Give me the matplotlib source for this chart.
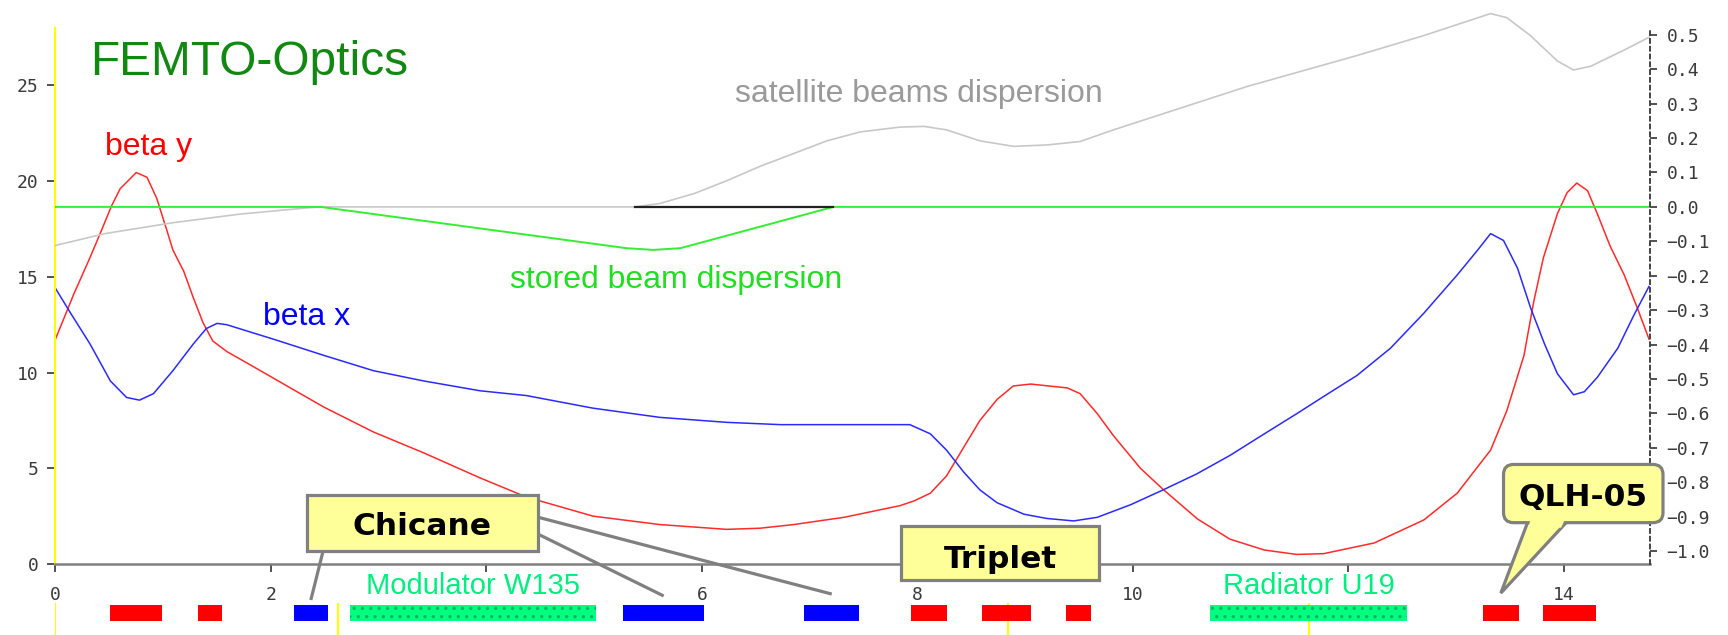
import numpy as np
import matplotlib.pyplot as plt
from matplotlib.patches import Rectangle, FancyBboxPatch, Polygon
from matplotlib.ticker import FuncFormatter

plt.rcParams['font.family'] = ['DejaVu Sans Mono']
plt.rcParams['hatch.linewidth'] = 1.2

# beta functions (left axis)
s_by = [0, 0.17, 0.32, 0.41, 0.52, 0.6, 0.75, 0.85, 0.94, 1.03, 1.09, 1.19, 1.28, 1.37,
        1.46, 1.59, 1.84, 2.18, 2.49, 2.95, 3.42, 3.94, 4.37, 4.99, 5.61, 6.23, 6.54, 6.85,
        7.32, 7.84, 7.97, 8.12, 8.27, 8.43, 8.58, 8.74, 8.89, 9.05, 9.39, 9.51, 9.67, 9.82,
        10.07, 10.28, 10.6, 10.9, 11.22, 11.52, 11.77, 12.24, 12.7, 13.01, 13.32, 13.47,
        13.63, 13.72, 13.81, 13.94, 14.03, 14.12, 14.22, 14.31, 14.43, 14.56, 14.68, 14.79]
beta_y = [11.75, 14.1, 16.0, 17.2, 18.7, 19.6, 20.45, 20.2, 19.1, 17.5, 16.4, 15.3, 13.9, 12.6,
          11.65, 11.1, 10.3, 9.2, 8.2, 6.9, 5.8, 4.5, 3.5, 2.5, 2.06, 1.81, 1.87, 2.06,
          2.44, 3.05, 3.3, 3.7, 4.6, 6.1, 7.5, 8.6, 9.3, 9.4, 9.2, 8.9, 7.85, 6.7,
          5.0, 3.9, 2.35, 1.3, 0.73, 0.5, 0.54, 1.1, 2.3, 3.7, 5.95, 8.0,
          10.9, 13.7, 16.0, 18.3, 19.4, 19.9, 19.5, 18.3, 16.6, 15.1, 13.4, 11.75]

s_bx = [0, 0.13, 0.32, 0.51, 0.66, 0.78, 0.91, 1.09, 1.28, 1.40, 1.50, 1.59, 2.02, 2.49,
        2.95, 3.42, 3.94, 4.37, 4.99, 5.61, 6.23, 6.73, 7.93, 8.12, 8.27, 8.43, 8.58, 8.74,
        8.99, 9.2, 9.45, 9.67, 9.98, 10.28, 10.59, 10.9, 11.22, 11.52, 11.77, 12.08, 12.39,
        12.7, 13.01, 13.2, 13.32, 13.44, 13.57, 13.69, 13.82, 13.94, 14.09, 14.19, 14.31,
        14.5, 14.65, 14.79]
beta_x = [14.4, 13.2, 11.5, 9.56, 8.7, 8.56, 8.9, 10.1, 11.5, 12.3, 12.57, 12.5, 11.75, 10.9,
          10.1, 9.56, 9.05, 8.8, 8.14, 7.66, 7.4, 7.28, 7.28, 6.8, 5.95, 4.8, 3.87, 3.2,
          2.6, 2.38, 2.25, 2.44, 3.1, 3.87, 4.7, 5.67, 6.8, 7.85, 8.75, 9.85, 11.27,
          13.1, 15.1, 16.4, 17.26, 16.9, 15.45, 13.4, 11.5, 9.94, 8.84, 9.0, 9.75,
          11.27, 13.0, 14.5]

# dispersion (right axis)
s_sat = [0, 0.47, 1.09, 1.71, 2.33, 2.46, 5.38, 5.61, 5.93, 6.23, 6.54, 6.85, 7.16, 7.47,
         7.84, 8.06, 8.27, 8.58, 8.89, 9.2, 9.51, 9.82, 10.44, 11.06, 11.74, 12.08, 12.7,
         13.32, 13.47, 13.69, 13.94, 14.09, 14.25, 14.56, 14.79]
disp_sat = [-0.112, -0.077, -0.046, -0.021, -0.003, 0.0, 0.0, 0.01, 0.039, 0.076, 0.118,
            0.155, 0.192, 0.218, 0.232, 0.234, 0.224, 0.192, 0.176, 0.18, 0.19, 0.224,
            0.287, 0.35, 0.41, 0.44, 0.498, 0.562, 0.55, 0.498, 0.424, 0.398, 0.409,
            0.456, 0.493]

s_sto = [0, 2.46, 5.3, 5.55, 5.8, 7.22, 14.8]
disp_sto = [0, 0, -0.12, -0.125, -0.12, 0, 0]

s_black = [5.38, 7.22]
disp_black = [0.0, 0.0]

# lattice elements (start, end)
quads = [(0.51, 0.99), (1.32, 1.55), (7.94, 8.27), (8.60, 9.05), (9.38, 9.61),
         (13.25, 13.58), (13.81, 14.30)]
dipoles = [(2.21, 2.53), (5.27, 6.02), (6.95, 7.46)]
undulators = [(2.73, 5.02), (10.72, 12.54)]
und_names = ['Modulator W135', 'Radiator U19']
markers = [0, 2.62, 8.84, 11.63]

xticks = [0, 2, 4, 6, 8, 10, 12, 14]
xtick_labels = ['0', '2', '', '6', '8', '10', '', '14']
yticks_left = [0, 5, 10, 15, 20, 25]
yticks_right = [v / 10 for v in range(-10, 6)]

fig = plt.figure(figsize=(17.28, 6.35), dpi=100)
L, B, W, H = 0.0321, 0.1118, 0.9228, 0.8441
ax = fig.add_axes([L, B, W, H])
ax2 = ax.twinx()

ax.plot(s_by, beta_y, color='#ff2a2a', lw=1.1)
ax.plot(s_bx, beta_x, color='#2a2aff', lw=1.1)
ax2.plot(s_sat, disp_sat, color='#c8c8c8', lw=1.2, clip_on=False)
ax2.plot(s_sto, disp_sto, color='#33ee33', lw=1.4)
ax2.plot(s_black, disp_black, color='#222222', lw=1.6)

ax.set_xlim(0, 14.8)
ax.set_ylim(0, 28)
ax2.set_ylim(-1.038, 0.52)

for a in (ax, ax2):
    a.spines['top'].set_visible(False)
ax.spines['right'].set_visible(False)
ax2.spines['left'].set_visible(False)
ax2.spines['bottom'].set_visible(False)
ax.spines['left'].set_color('#ffff00')
ax.spines['left'].set_linewidth(1.5)
ax.spines['bottom'].set_color('#808080')
ax.spines['bottom'].set_linewidth(1.8)
ax2.spines['right'].set_color('#444444')
ax2.spines['right'].set_linestyle((0, (2, 2)))
ax2.spines['right'].set_linewidth(1.4)

ax.set_xticks(xticks)
ax.set_xticklabels(xtick_labels)
ax.set_yticks(yticks_left)
ax2.set_yticks(yticks_right)
ax2.yaxis.set_major_formatter(FuncFormatter(
    lambda v, p: f"{abs(v):.1f}" if abs(v) < 1e-9 else f"{v:.1f}".replace('-', '\u2212')))
ax.tick_params(axis='x', direction='out', length=6, width=1.2, color='#333333',
               pad=10, labelsize=13, labelcolor='#3a3a3a')
ax.tick_params(axis='y', direction='out', length=6, width=1.2, color='#333333',
               pad=6, labelsize=13, labelcolor='#3a3a3a')
ax2.tick_params(axis='y', direction='out', length=5, width=1.2, color='#333333',
                pad=7, labelsize=13, labelcolor='#3a3a3a')

# curve labels
sans = 'Liberation Sans'
ax.text(0.0216, 0.9114, 'FEMTO-Optics', transform=ax.transAxes, family=sans,
        fontsize=34.5, color='#118811', va='baseline')
ax.text(0.46, 21.34, 'beta y', family=sans, fontsize=23, color='#ff0000', va='baseline')
ax.text(1.93, 12.51, 'beta x', family=sans, fontsize=23, color='#0000ff', va='baseline')
ax.text(4.22, 14.42, 'stored beam dispersion', family=sans, fontsize=23,
        color='#22dd22', va='baseline')
ax.text(6.31, 24.14, 'satellite beams dispersion', family=sans, fontsize=23,
        color='#9a9a9a', va='baseline')

# element row below the axis
ax_el = fig.add_axes([L, 0, W, B])
ax_el.set_xlim(0, 14.8)
ax_el.set_ylim(0, 1)
ax_el.axis('off')
ax_el.vlines(markers, 0, 0.45, color='#ffff00', lw=1.5, zorder=0)
ax_el.broken_barh([(a, b - a) for a, b in quads], (0.197, 0.226), facecolors='#ff0000')
ax_el.broken_barh([(a, b - a) for a, b in dipoles], (0.197, 0.226), facecolors='#0000ff')
ax_el.broken_barh([(a, b - a) for a, b in undulators], (0.197, 0.226), facecolors='#00ff80',
                  edgecolors='#00b860', hatch='..', linewidth=0)
for (a, b), name in zip(undulators, und_names):
    ax_el.text((a + b) / 2, 0.69, name, family=sans, fontsize=21, color='#00ee80',
               ha='center', va='center')

# callouts on top of everything
ax_c = fig.add_axes([L, B, W, H])
ax_c.set_xlim(0, 14.8)
ax_c.set_ylim(0, 28)
ax_c.axis('off')
box_fc, box_ec = '#ffff99', '#808080'
bold = dict(family='DejaVu Sans', fontweight='bold', fontsize=22.5, color='black')

leader_starts = [(2.484, 0.68), (4.4, 1.78), (4.4, 2.56)]
leader_ends_v = [-1.88, -1.67, -1.57]
for (x0, y0), (a, b), y1 in zip(leader_starts, dipoles, leader_ends_v):
    ax_c.plot([x0, (a + b) / 2], [y0, y1], color=box_ec, lw=2.3, clip_on=False,
              solid_capstyle='butt', zorder=3)
ax_c.add_patch(Rectangle((2.335, 0.68), 2.145, 2.92, fc=box_fc, ec=box_ec, lw=2.3,
                         clip_on=False, zorder=4))
ax_c.text(3.40, 1.49, 'Chicane', ha='center', va='baseline', zorder=5, **bold)

ax_c.add_patch(Rectangle((7.85, -0.84), 1.84, 2.83, fc=box_fc, ec=box_ec, lw=2.3,
                         clip_on=False, zorder=4))
ax_c.text(8.77, -0.23, 'Triplet', ha='center', va='baseline', zorder=5, **bold)

qa, qb = quads[5]
ax_c.add_patch(Polygon([(13.672, 2.3), ((qa + qb) / 2, -1.52), (14.044, 2.3)], closed=True,
                       fc=box_fc, ec=box_ec, lw=2.3, clip_on=False, zorder=6))
ax_c.add_patch(FancyBboxPatch((13.44, 2.16), 1.48, 3.04,
                              boxstyle='round,pad=0,rounding_size=0.093',
                              mutation_aspect=5.63, fc=box_fc, ec=box_ec, lw=2.3,
                              clip_on=False, zorder=7))
ax_c.add_patch(Polygon([(13.69, 2.45), (13.675, 1.9), (13.975, 1.9), (14.02, 2.45)],
                       closed=True, fc=box_fc, ec='none', clip_on=False, zorder=8))
ax_c.text(14.18, 3.01, 'QLH-05', ha='center', va='baseline', zorder=9, **bold)

plt.savefig('out.png', dpi=100)
